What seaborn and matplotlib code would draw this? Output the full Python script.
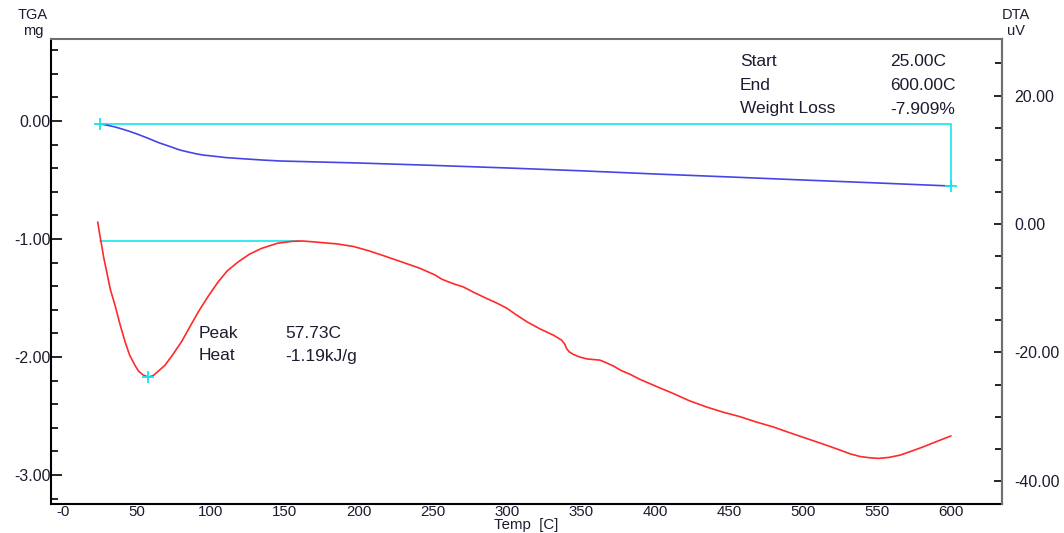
import matplotlib
matplotlib.use("Agg")
import matplotlib.pyplot as plt
from matplotlib.ticker import MultipleLocator, FixedLocator, FixedFormatter
import seaborn as sns

# ---- TGA (mg) ----
tga_temp = [25, 30, 35, 40, 45, 50, 57, 65, 72, 79, 85, 90, 95, 101, 110, 124, 135, 147, 175,
            200, 250, 300, 350, 400, 450, 500, 550, 600]
tga_mass = [-0.025, -0.036, -0.05, -0.068, -0.088, -0.11, -0.144, -0.185, -0.215, -0.246, -0.264,
            -0.278, -0.289, -0.297, -0.31, -0.322, -0.331, -0.339, -0.348, -0.356, -0.376, -0.398,
            -0.422, -0.449, -0.474, -0.5, -0.525, -0.551]

# ---- DTA (uV) ----
dta_temp = [23.5, 24.5, 25.7, 27.5, 29.5, 32.0, 35.1, 38.5, 41.9, 45.0, 48.6, 51.0, 54.0, 57.73,
            61.0, 64.0, 68.9, 74.0, 80.2, 86.0, 91.4, 98.0, 104.9, 111.0, 118.4, 126.0, 134.2,
            145.0, 155.0, 162.0, 172.5, 185.0, 196.2, 207.0, 218.7, 230.0, 241.2, 251.0, 256.0,
            260.3, 265.0, 270.5, 278.0, 286.3, 293.0, 299.8, 306.0, 313.3, 322.0, 331.3, 337.0,
            339.0, 340.3, 342.0, 344.8, 349.0, 353.8, 358.0, 362.8, 367.0, 371.8, 377.0, 383.1,
            389.9, 400.0, 412.4, 423.0, 434.9, 446.0, 457.4, 468.0, 479.9, 491.0, 502.5, 514.0,
            525.0, 532.0, 538.5, 545.0, 550.9, 558.0, 565.5, 573.0, 581.3, 590.0, 600.0]
dta_signal = [0.3, -1.2, -2.76, -5.2, -7.4, -10.2, -12.6, -15.6, -18.3, -20.4, -22.0, -22.9, -23.5,
              -23.85, -23.6, -23.0, -22.0, -20.4, -18.3, -15.9, -13.7, -11.3, -9.0, -7.3, -5.9,
              -4.7, -3.8, -3.0, -2.7, -2.65, -2.85, -3.1, -3.5, -4.2, -5.1, -6.0, -6.9, -7.9, -8.6,
              -9.0, -9.4, -9.8, -10.7, -11.6, -12.3, -13.1, -14.1, -15.2, -16.3, -17.3, -18.1,
              -18.7, -19.4, -19.9, -20.3, -20.7, -21.0, -21.1, -21.2, -21.6, -22.1, -22.8, -23.4,
              -24.2, -25.2, -26.4, -27.5, -28.5, -29.3, -30.0, -30.8, -31.6, -32.5, -33.4, -34.3,
              -35.2, -35.8, -36.2, -36.4, -36.5, -36.35, -36.0, -35.4, -34.7, -33.9, -33.0]

# ---- analysis results ----
tga_start, tga_end = 25.0, 600.0
tga_start_mass, tga_end_mass = -0.025, -0.551
peak_temp, peak_signal = 57.73, -23.85
dta_baseline = -2.65
dta_baseline_end = 160.0

x_ticks = [0, 50, 100, 150, 200, 250, 300, 350, 400, 450, 500, 550, 600]
x_tick_labels = ["-0", "50", "100", "150", "200", "250", "300", "350", "400", "450", "500", "550", "600"]
left_ticks = [0.0, -1.0, -2.0, -3.0]
left_tick_labels = ["0.00", "-1.00", "-2.00", "-3.00"]
right_ticks = [20, 0, -20, -40]
right_tick_labels = ["20.00", "0.00", "-20.00", "-40.00"]

sns.set_style("white")
plt.rcParams["font.family"] = ["Liberation Sans", "DejaVu Sans"]

TXT = "#1c1c30"
BLUE = "#4646e6"
RED = "#ff2a2a"
CYAN = "#16e4ee"
FS_TICK = 11.5
FS_XTICK = 10.8
FS_NOTE = 12.5

fig = plt.figure(figsize=(10.64, 5.33), dpi=100)
ax = fig.add_axes([51 / 1064, 1 - 504 / 533, (1002 - 51) / 1064, (504 - 39) / 533])
ax2 = ax.twinx()

# TGA curve and weight-loss guide
sns.lineplot(x=tga_temp, y=tga_mass, ax=ax, color=BLUE, linewidth=1.2, estimator=None)
ax.plot([tga_start, tga_end, tga_end], [tga_start_mass, tga_start_mass, tga_end_mass],
        color=CYAN, linewidth=1.2, zorder=1)
ax.plot([tga_start, tga_end], [tga_start_mass, tga_end_mass], linestyle="none",
        marker="+", markersize=8, markeredgewidth=1.3, color=CYAN, zorder=3)

# DTA curve, baseline and peak
sns.lineplot(x=dta_temp, y=dta_signal, ax=ax2, color=RED, linewidth=1.2, estimator=None)
ax2.plot([tga_start, dta_baseline_end], [dta_baseline, dta_baseline], color=CYAN, linewidth=1.2, zorder=1)
ax2.plot([peak_temp], [peak_signal], linestyle="none", marker="+", markersize=8,
         markeredgewidth=1.3, color=CYAN, zorder=3)

ax.set_xlim(-8.1, 634.5)
ax.set_ylim(-3.246, 0.695)
ax2.set_ylim(-43.6, 28.8)

ax.xaxis.set_major_locator(FixedLocator(x_ticks))
ax.xaxis.set_major_formatter(FixedFormatter(x_tick_labels))
ax.xaxis.set_minor_locator(MultipleLocator(20))
ax.yaxis.set_major_locator(FixedLocator(left_ticks))
ax.yaxis.set_major_formatter(FixedFormatter(left_tick_labels))
ax.yaxis.set_minor_locator(MultipleLocator(0.2))
ax2.yaxis.set_major_locator(FixedLocator(right_ticks))
ax2.yaxis.set_major_formatter(FixedFormatter(right_tick_labels))
ax2.yaxis.set_minor_locator(MultipleLocator(5))

ax.set_xlabel("")
ax.set_ylabel("")
ax2.set_ylabel("")
fig.text(526 / 1064, 1 - 525 / 533, "Temp  [C]", ha="center", va="center", fontsize=FS_XTICK, color=TXT)

ax.tick_params(axis="x", which="major", direction="in", length=5.5, width=1.2, pad=1,
               labelsize=FS_XTICK, labelcolor=TXT, color="black")
ax.tick_params(axis="x", which="minor", direction="in", length=3, width=1.2, color="black")
ax.tick_params(axis="y", which="major", direction="in", length=8, width=1.2, pad=0,
               labelsize=FS_TICK, labelcolor=TXT, color="black")
ax.tick_params(axis="y", which="minor", direction="in", length=5, width=1.2, color="black")
ax2.tick_params(axis="y", which="major", direction="in", length=6, width=1.2, pad=9,
                labelsize=FS_TICK, labelcolor=TXT, color="black")
ax2.tick_params(axis="y", which="minor", direction="in", length=5, width=1.2, color="black")

for name, sp in ax.spines.items():
    sp.set_linewidth(1.5)
    sp.set_color("black" if name in ("left", "bottom") else "#707070")
for name, sp in ax2.spines.items():
    if name == "right":
        sp.set_linewidth(1.5)
        sp.set_color("#707070")
    else:
        sp.set_visible(False)

# axis titles
for xpx, top, bottom in [(33, "TGA", "mg"), (1016, "DTA", "uV")]:
    fig.text(xpx / 1064, 1 - 15 / 533, top, ha="center", va="center", fontsize=10.5, color=TXT)
    fig.text(xpx / 1064, 1 - 31 / 533, bottom, ha="center", va="center", fontsize=10.5, color=TXT)

# result tables
rows_tga = [("Start", "25.00C", 62), ("End", "600.00C", 85), ("Weight Loss", "-7.909%", 109)]
for label, value, ypx in rows_tga:
    fig.text(740 / 1064, 1 - ypx / 533, label, ha="left", va="center", fontsize=FS_NOTE, color=TXT)
    fig.text(890 / 1064, 1 - ypx / 533, value, ha="left", va="center", fontsize=FS_NOTE, color=TXT)

rows_dta = [("Peak", "57.73C", 333), ("Heat", "-1.19kJ/g", 356)]
for label, value, ypx in rows_dta:
    fig.text(199 / 1064, 1 - ypx / 533, label, ha="left", va="center", fontsize=FS_NOTE, color=TXT)
    fig.text(285 / 1064, 1 - ypx / 533, value, ha="left", va="center", fontsize=FS_NOTE, color=TXT)

fig.savefig("out.png", dpi=100)
